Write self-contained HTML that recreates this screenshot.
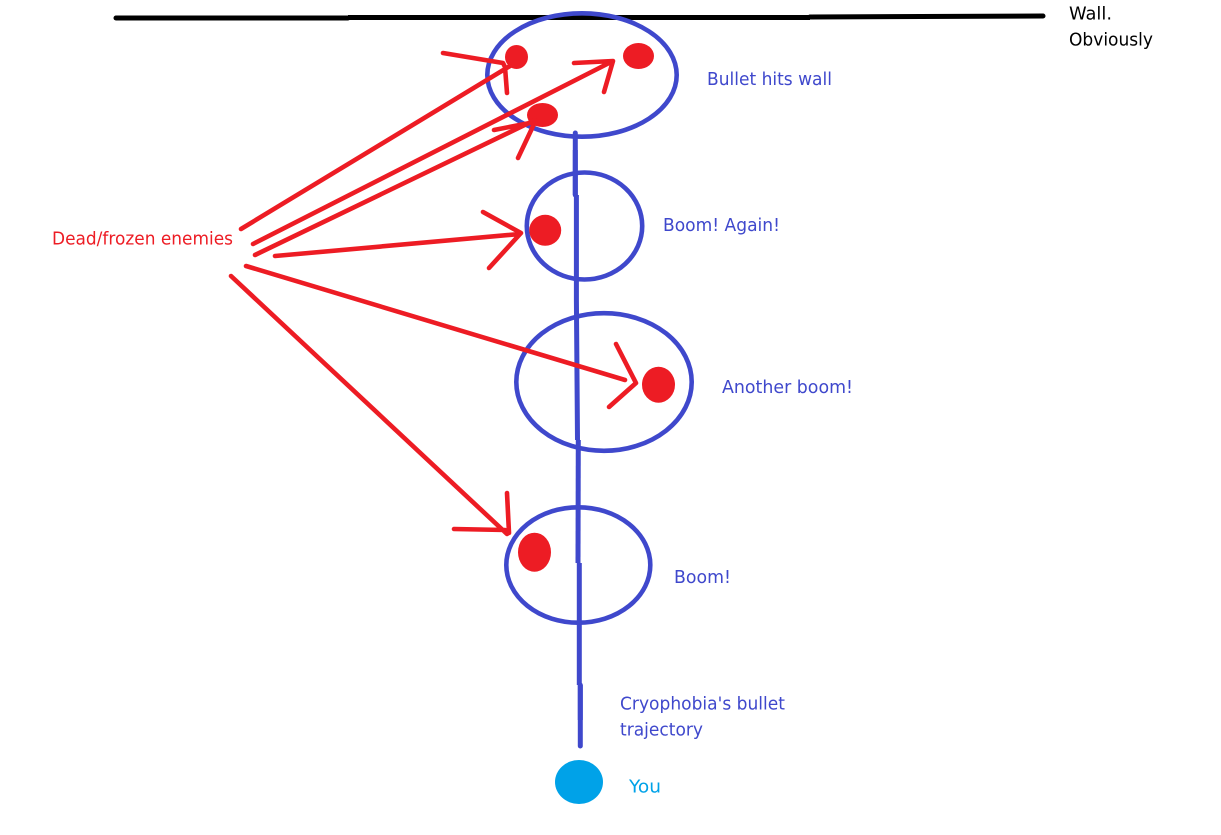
<!DOCTYPE html>
<html><head><meta charset="utf-8"><style>
html,body{margin:0;padding:0;background:#fff;width:1221px;height:835px;overflow:hidden}
svg{display:block}
text{font-family:"DejaVu Sans","Liberation Sans",sans-serif;font-size:17.5px}
</style></head><body>
<svg width="1221" height="835" viewBox="0 0 1221 835" xmlns="http://www.w3.org/2000/svg">
<rect width="1221" height="835" fill="#fff"/>
<path d="M116 18L348 18" stroke="#000" stroke-width="5" fill="none" stroke-linecap="round"/>
<path d="M348 17.500L810 17.500" stroke="#000" stroke-width="5" fill="none"/>
<path d="M810 17L1043 16" stroke="#000" stroke-width="5" fill="none" stroke-linecap="round"/>
<g fill="none" stroke="#3f48cc" stroke-width="4.600">
<ellipse cx="582" cy="75" rx="94.700" ry="61.700"/>
<ellipse cx="584.500" cy="226" rx="57.700" ry="53.500"/>
<ellipse cx="604" cy="382" rx="87.700" ry="68.800"/>
<ellipse cx="578.300" cy="565" rx="72" ry="57.700"/>
</g>
<g fill="none" stroke="#3f48cc" stroke-width="5">
<path d="M575.300 133V195" stroke-linecap="round"/>
<path d="M575.300 150V195"/>
<path d="M576.400 195V300L577.500 440"/>
<path d="M578.300 440L578 563"/>
<path d="M579.300 563V685"/>
<path d="M580.300 685V746" stroke-linecap="round"/>
<path d="M580.300 685V720"/>
</g>
<g fill="#ed1c24">
<ellipse cx="516.500" cy="57" rx="11.500" ry="12"/>
<ellipse cx="638.500" cy="56" rx="15.500" ry="13"/>
<ellipse cx="542.500" cy="115" rx="15.500" ry="12"/>
<ellipse cx="545.200" cy="230.300" rx="16" ry="15.500"/>
<ellipse cx="658.500" cy="384.700" rx="16.500" ry="18"/>
<ellipse cx="534.500" cy="552.200" rx="16.500" ry="19.500"/>
</g>
<ellipse cx="579" cy="782" rx="24" ry="22" fill="#00a2e8"/>
<g fill="none" stroke="#ed1c24" stroke-width="4.600" stroke-linecap="round" stroke-linejoin="round">
<path d="M241 229L510 66M443 53L503 63L505 67L507 93"/>
<path d="M253 244L613 61M574 63L613 61L604 92"/>
<path d="M255 255L535 120M494 130L535 122L518 158"/>
<path d="M275 256L520 234M483 212L521 233L489 268"/>
<path d="M246 266L625 380M616 344L636 383L609 407"/>
<path d="M231 276L507 534M507 493L509 533L505 530L454 529"/>
</g>
<text x="52" y="244.500" fill="#ed1c24" textLength="181" lengthAdjust="spacingAndGlyphs">Dead/frozen enemies</text>
<g fill="#3f48cc">
<text x="707" y="85" textLength="125" lengthAdjust="spacingAndGlyphs">Bullet hits wall</text>
<text x="663" y="231" textLength="117" lengthAdjust="spacingAndGlyphs">Boom! Again!</text>
<text x="722" y="393" textLength="131" lengthAdjust="spacingAndGlyphs">Another boom!</text>
<text x="674" y="583" textLength="57" lengthAdjust="spacingAndGlyphs">Boom!</text>
<text x="620" y="709.500" textLength="165" lengthAdjust="spacingAndGlyphs">Cryophobia's bullet</text>
<text x="620" y="735.500" textLength="83" lengthAdjust="spacingAndGlyphs">trajectory</text>
</g>
<text x="629" y="792.500" fill="#00a2e8" textLength="32" lengthAdjust="spacingAndGlyphs">You</text>
<text x="1069" y="19.500" fill="#000" textLength="43" lengthAdjust="spacingAndGlyphs">Wall.</text>
<text x="1069" y="45.500" fill="#000" textLength="84" lengthAdjust="spacingAndGlyphs">Obviously</text>
</svg>
</body></html>
